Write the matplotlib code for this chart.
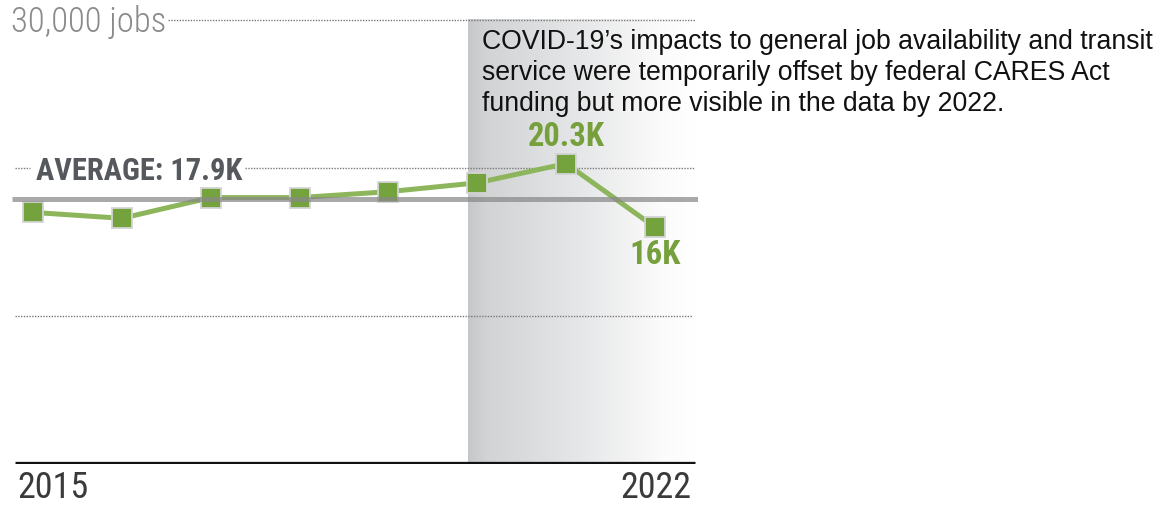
import numpy as np
import matplotlib
matplotlib.use("Agg")
import matplotlib.pyplot as plt
from matplotlib.colors import LinearSegmentedColormap

# Annual jobs reachable (thousands), 2015-2022
years = [2015, 2016, 2017, 2018, 2019, 2020, 2021, 2022]
jobs_k = [17.0, 16.6, 18.0, 18.0, 18.4, 19.0, 20.3, 16.0]
grid_levels = [10000, 20000, 30000]
year_ticks = [2015, 2022]
covid_start = 2019.9
note = ("COVID-19\u2019s impacts to general job availability and transit\n"
        "service were temporarily offset by federal CARES Act\n"
        "funding but more visible in the data by 2022.")

jobs = np.array(jobs_k) * 1000
avg = jobs.mean()

W, H, DPI = 1170, 508, 100
fig = plt.figure(figsize=(W / DPI, H / DPI), dpi=DPI)

# axes placement in pixels
x0_px, x1_px = 10, 698
y_base_px = 464
px_per_year = (655 - 33) / 7.0
px_per_job = 14.8 / 1000.0
ax = fig.add_axes([x0_px / W, (H - y_base_px) / H, (x1_px - x0_px) / W, y_base_px / H])
xl = 2015 - (33 - x0_px) / px_per_year
xr = 2022 + (x1_px - 655) / px_per_year
ax.set_xlim(xl, xr)
ax.set_ylim(0, y_base_px / px_per_job)
ax.axis("off")


def px2x(px):
    return 2015 + (px - 33) / px_per_year


narrow = dict(family=["Roboto Condensed", "DejaVu Sans"], stretch="condensed")

# shaded COVID period with a fading gradient
cmap = LinearSegmentedColormap.from_list(
    "fade", [(0, "#c6c7ca"), (0.08, "#d2d3d5"), (0.5, "#e6e7e8"), (0.85, "#fbfbfb"), (1, "#ffffff")])
grad = np.linspace(0, 1, 256).reshape(1, -1)
ax.imshow(grad, extent=[covid_start, px2x(695), 0, 30000], aspect="auto",
          cmap=cmap, zorder=0, interpolation="bicubic")

# dotted gridlines
dot = dict(color="#7a7a7a", lw=1.0, linestyle=(0, (1, 1)), zorder=1)
ax.hlines(grid_levels[0], px2x(15), px2x(692), **dot)
ax.hlines(grid_levels[1], px2x(15), px2x(30), **dot)
ax.hlines(grid_levels[1], px2x(245), px2x(695), **dot)
ax.hlines(grid_levels[2], px2x(168), px2x(695), **dot)

# baseline
ax.hlines(0, px2x(15), px2x(695), color="#111111", lw=3.8, zorder=3)

# data line
ax.plot(years, jobs, color="#8db55c", lw=3.6, zorder=4, solid_capstyle="butt")
ax.plot(years, jobs, linestyle="none", marker="s", markersize=14.5,
        markerfacecolor="#74a23c", markeredgecolor="#d4d4d4", markeredgewidth=1.3, zorder=5)

# average line
ax.hlines(avg, px2x(12), px2x(698), color="#888888", alpha=0.72, lw=3.6, zorder=6)
ax.text(px2x(36), avg + 1900, f"AVERAGE: {avg/1000:.1f}K", fontsize=22, fontweight="bold",
        color="#55595d", va="center", ha="left", zorder=7, **narrow)

# axis label for top gridline
ax.text(px2x(11), grid_levels[2] - 150, "30,000 jobs", fontsize=25, fontweight="light",
        color="#8a8a8a", va="center", ha="left", **narrow)

# value callouts
i_max = int(np.argmax(jobs))
ax.text(years[i_max], jobs[i_max] + 1800, f"{jobs_k[i_max]:.1f}K", fontsize=23.5, fontweight="bold",
        color="#76a03c", ha="center", va="center", **narrow)
ax.text(years[-1], jobs[-1] - 1900, f"{jobs_k[-1]:.0f}K", fontsize=23.5, fontweight="bold",
        color="#76a03c", ha="center", va="center", **narrow)

# year labels
ax.text(px2x(17), -1600, str(year_ticks[0]), fontsize=26, color="#3a3a3a",
        ha="left", va="center", clip_on=False, **narrow)
ax.text(px2x(691), -1600, str(year_ticks[1]), fontsize=26, color="#3a3a3a",
        ha="right", va="center", clip_on=False, **narrow)

# annotation
fig.text(482 / W, 1 - 29 / H, note, fontsize=19.2, family=["Liberation Sans", "DejaVu Sans"],
         color="#111111", ha="left", va="top", linespacing=1.26)

fig.savefig("out.png", dpi=DPI)
